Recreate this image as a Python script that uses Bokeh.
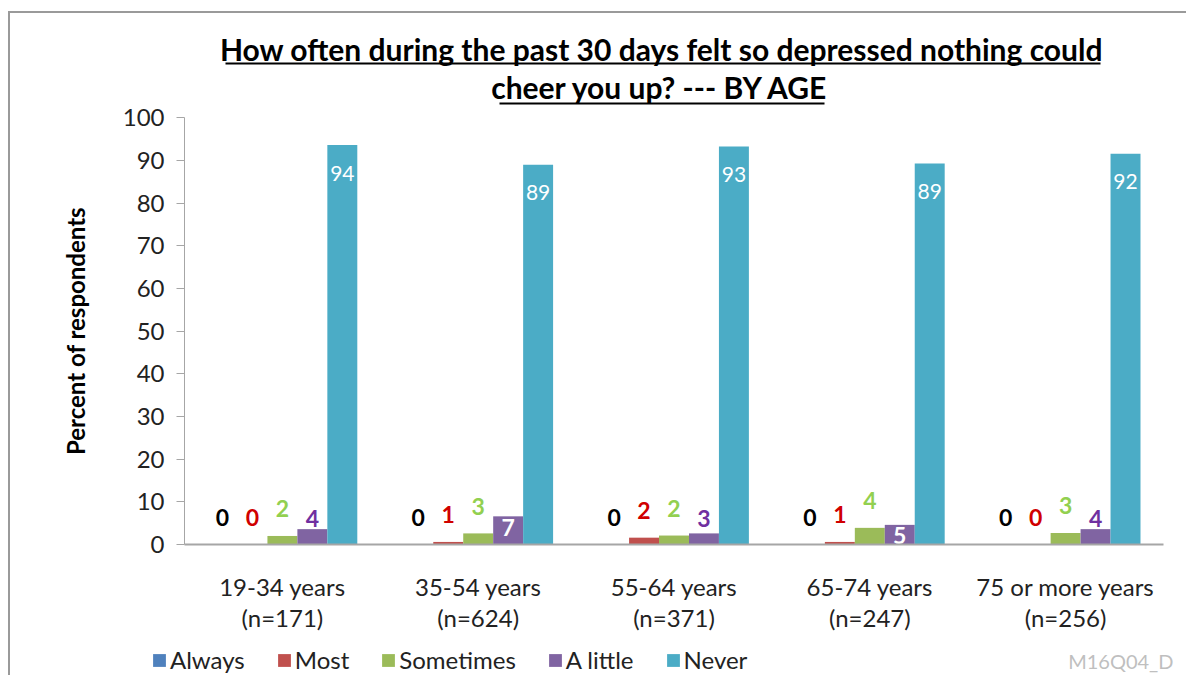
from bokeh.plotting import figure
from bokeh.models import (ColumnDataSource, Range1d, Legend, LegendItem,
                          Label, BoxAnnotation, FixedTicker)
from bokeh.transform import dodge
from bokeh.core.properties import value
from bokeh.embed import file_html
from bokeh.resources import INLINE

# ---------------- data ----------------
categories = ["19-34 years\n(n=171)", "35-54 years\n(n=624)", "55-64 years\n(n=371)",
              "65-74 years\n(n=247)", "75 or more years\n(n=256)"]
series = ["Always", "Most", "Sometimes", "A little", "Never"]
always = [0.0, 0.0, 0.0, 0.0, 0.0]
most = [0.0, 0.6, 1.6, 0.6, 0.0]
sometimes = [2.0, 2.6, 2.1, 3.9, 2.7]
a_little = [3.6, 6.6, 2.6, 4.6, 3.6]
never = [93.6, 89.0, 93.3, 89.3, 91.6]
y_ticks = [0, 10, 20, 30, 40, 50, 60, 70, 80, 90, 100]

title_line1 = "How often during the past 30 days felt so depressed nothing could"
title_line2 = "cheer you up? --- BY AGE"
y_title = "Percent of respondents"
code_note = "M16Q04_D"

# ---------------- styles ----------------
FONT = "Lato"
bar_colors = ["#4F81BD", "#C0504D", "#9BBB59", "#8064A2", "#4BACC6"]
label_colors = ["#000000", "#D00000", "#92D050", "#7030A0", "#FFFFFF"]
offsets = [-0.306, -0.153, 0.0, 0.153, 0.306]
bar_w = 0.153

# category slots: slot k spans [k, k+1] on the x scale
centers = [k + 0.5 for k in range(len(categories))]

values = [always, most, sometimes, a_little, never]
data = {"xc": centers}
for i, vals in enumerate(values):
    data[f"v{i}"] = vals
    ly, lo, lc = [], [], []
    for v in vals:
        if i < 3:
            ly.append(v); lo.append(-27); lc.append(label_colors[i])
        elif i == 3:
            if v >= 4.5:
                ly.append(v); lo.append(11); lc.append("#FFFFFF")
            else:
                ly.append(0); lo.append(-26); lc.append(label_colors[i])
        else:
            ly.append(v); lo.append(28); lc.append(label_colors[i])
    data[f"ly{i}"] = ly
    data[f"lo{i}"] = lo
    data[f"lc{i}"] = lc
    data[f"lt{i}"] = [f"{v:.0f}" for v in vals]
src = ColumnDataSource(data)

# canvas starts at page (10, 13): 8px/11px margin + 2px border; the frame fills the canvas
p = figure(width=1178, height=664,
           x_range=Range1d(-0.8887, 5.1277),
           y_range=Range1d(-31.17, 124.44),
           output_backend="svg", toolbar_location=None,
           min_border_left=0, min_border_right=0,
           min_border_top=0, min_border_bottom=0)
p.styles = {"margin-left": "8px", "margin-top": "11px",
            "border-left": "2px solid #9A9A9A", "border-top": "2px solid #9A9A9A"}
p.xgrid.visible = False
p.ygrid.visible = False
p.outline_line_color = None
p.background_fill_color = "white"
p.border_fill_color = "white"

renderers = []
for i, s in enumerate(series):
    r = p.vbar(x=dodge("xc", offsets[i]), top=f"v{i}", width=bar_w,
               source=src, fill_color=bar_colors[i], line_color=None)
    renderers.append(r)

for i in range(5):
    big = (i == 4)
    p.text(x=dodge("xc", offsets[i]), y=f"ly{i}", text=f"lt{i}",
           y_offset=f"lo{i}", text_color=f"lc{i}", source=src,
           text_align="center", text_baseline="middle",
           text_font=value(FONT), text_font_size="21px" if big else "23px",
           text_font_style="normal" if big else "bold")

# axes (drawn at fixed data locations so the frame can fill the canvas)
p.yaxis.fixed_location = 0
p.yaxis.ticker = FixedTicker(ticks=y_ticks)
p.yaxis.bounds = (0, 100)
p.yaxis.minor_tick_line_color = None
p.yaxis.major_tick_in = 0
p.yaxis.major_tick_out = 8
p.yaxis.axis_line_color = "#A6A6A6"
p.yaxis.major_tick_line_color = "#A6A6A6"
p.yaxis.major_label_text_font = FONT
p.yaxis.major_label_text_font_size = "24px"
p.yaxis.major_label_text_color = "#222222"
p.yaxis.major_label_standoff = 12
p.yaxis.axis_label = y_title
p.yaxis.axis_label_text_font = FONT
p.yaxis.axis_label_text_font_size = "24px"
p.yaxis.axis_label_text_font_style = "bold"
p.yaxis.axis_label_text_color = "#000000"
p.yaxis.axis_label_standoff = 30

p.xaxis.fixed_location = 0
p.xaxis.ticker = FixedTicker(ticks=centers)
p.xaxis.major_label_overrides = {c: lab for c, lab in zip(centers, categories)}
p.xaxis.bounds = (0, len(categories))
p.xaxis.major_tick_line_color = None
p.xaxis.minor_tick_line_color = None
p.xaxis.axis_line_color = "#A6A6A6"
p.xaxis.axis_line_width = 2
p.xaxis.major_label_text_font = FONT
p.xaxis.major_label_text_font_size = "24px"
p.xaxis.major_label_text_color = "#222222"
p.xaxis.major_label_text_line_height = 1.06
p.xaxis.major_label_standoff = 22

# title (two centered, underlined lines)
for txt, sx, sy in [(title_line1, 651, 629), (title_line2, 650, 591)]:
    p.add_layout(Label(x=sx, y=sy, x_units="screen", y_units="screen", text=txt,
                       text_align="center", text_baseline="middle",
                       text_font=FONT, text_font_size="30px", text_font_style="bold",
                       text_color="#000000"))
for (l, r_, t, b) in [(213, 1088, 47, 49), (487, 812, 87, 89)]:
    p.add_layout(BoxAnnotation(left=l, right=r_, top=t, bottom=b,
                               left_units="canvas", right_units="canvas",
                               top_units="canvas", bottom_units="canvas",
                               fill_color="#000000", fill_alpha=1, line_color=None))

# legend
legend = Legend(items=[LegendItem(label=s, renderers=[renderers[i]]) for i, s in enumerate(series)],
                location=(141, 3), orientation="horizontal",
                glyph_width=16, glyph_height=16, label_standoff=3, spacing=31,
                padding=0, margin=0, border_line_color=None, background_fill_alpha=0,
                label_text_font=FONT, label_text_font_size="24px", label_text_color="#222222")
p.add_layout(legend)

p.add_layout(Label(x=1163, y=17, x_units="screen", y_units="screen", text=code_note,
                   text_align="right", text_baseline="middle", text_font=FONT,
                   text_font_size="20px", text_color="#BFBFBF"))

open("out.html", "w").write(file_html(p, INLINE))
